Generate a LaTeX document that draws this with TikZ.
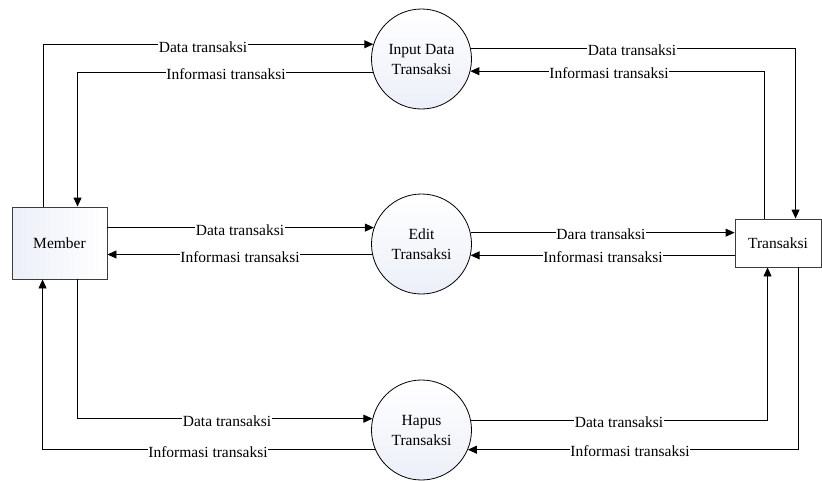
\documentclass[tikz,border=0pt]{standalone}
\usepackage{fontspec}
\setmainfont{Liberation Serif}
\usetikzlibrary{arrows.meta,calc}

\definecolor{procfill}{RGB}{236,239,248}
\definecolor{edgegray}{RGB}{60,60,60}

\tikzset{
  process/.style={circle, draw=black, line width=0.8pt, minimum size=100pt,
    inner sep=0pt, align=center, top color=white, bottom color=procfill,
    font=\fontsize{15.5}{20}\selectfont},
  entity/.style={rectangle, draw=edgegray, line width=0.9pt, inner sep=0pt,
    font=\fontsize{15.5}{18}\selectfont},
  flow/.style={draw=black, line width=0.9pt, -{Triangle[length=9pt,width=8pt]}},
  lbl/.style={fill=white, inner xsep=0.6pt, inner ysep=1pt, anchor=base,
    font=\fontsize{15.5}{18}\selectfont}
}

\begin{document}
\begin{tikzpicture}[x=1pt, y=-1pt]
\useasboundingbox (0,0) rectangle (822,480);

% external entities
\node[entity, minimum width=95pt, minimum height=72pt,
      left color=procfill, right color=white] (member) at (59.5,243) {Member};
\node[entity, minimum width=86pt, minimum height=48pt, fill=white]
      (trans) at (778,243) {Transaksi};

% processes
\node[process] (input) at (421.5,59) {Input Data\\Transaksi};
\node[process] (edit)  at (421.5,244) {Edit\\Transaksi};
\node[process] (hapus) at (421.5,430) {Hapus\\Transaksi};

% Member <-> Input Data Transaksi
\draw[flow] ($(member.north west)+(32,0)$) |- (input.163.7);
\draw[flow] (input.195.1) -| ($(member.north west)+(66,0)$);
% Input Data Transaksi <-> Transaksi
\draw[flow] (input.12.7) -| ($(trans.north west)+(61,0)$);
\draw[flow] ($(trans.north west)+(30,0)$) |- (input.346.1);

% Member <-> Edit Transaksi
\draw[flow] (member.east |- edit.161.3) -- (edit.161.3);
\draw[flow] (edit.192.7) -- (member.east |- edit.192.7);
% Edit Transaksi <-> Transaksi
\draw[flow] (edit.13.9) -- (trans.west |- edit.13.9);
\draw[flow] (trans.west |- edit.347.3) -- (edit.347.3);

% Member <-> Hapus Transaksi
\draw[flow] ($(member.south west)+(66,0)$) |- (hapus.167.3);
\draw[flow] (hapus.203.6) -| ($(member.south west)+(31,0)$);
% Hapus Transaksi <-> Transaksi
\draw[flow] (hapus.11.5) -| ($(trans.south west)+(33,0)$);
\draw[flow] ($(trans.south west)+(64,0)$) |- (hapus.337.7);

% flow labels
\node[lbl] (l1)  at (203,52)  {Data transaksi};
\node[lbl] (l2)  at (226,79)  {Informasi transaksi};
\node[lbl] (l3)  at (632,55)  {Data transaksi};
\node[lbl] (l4)  at (609,78)  {Informasi transaksi};
\node[lbl] (l5)  at (240,235) {Data transaksi};
\node[lbl] (l6)  at (240,262) {Informasi transaksi};
\node[lbl] (l7)  at (601,239) {Dara transaksi};
\node[lbl] (l8)  at (603,262) {Informasi transaksi};
\node[lbl] (l9)  at (227,426) {Data transaksi};
\node[lbl] (l10) at (208,457) {Informasi transaksi};
\node[lbl] (l11) at (619,427) {Data transaksi};
\node[lbl] (l12) at (630,456) {Informasi transaksi};
\end{tikzpicture}
\end{document}
